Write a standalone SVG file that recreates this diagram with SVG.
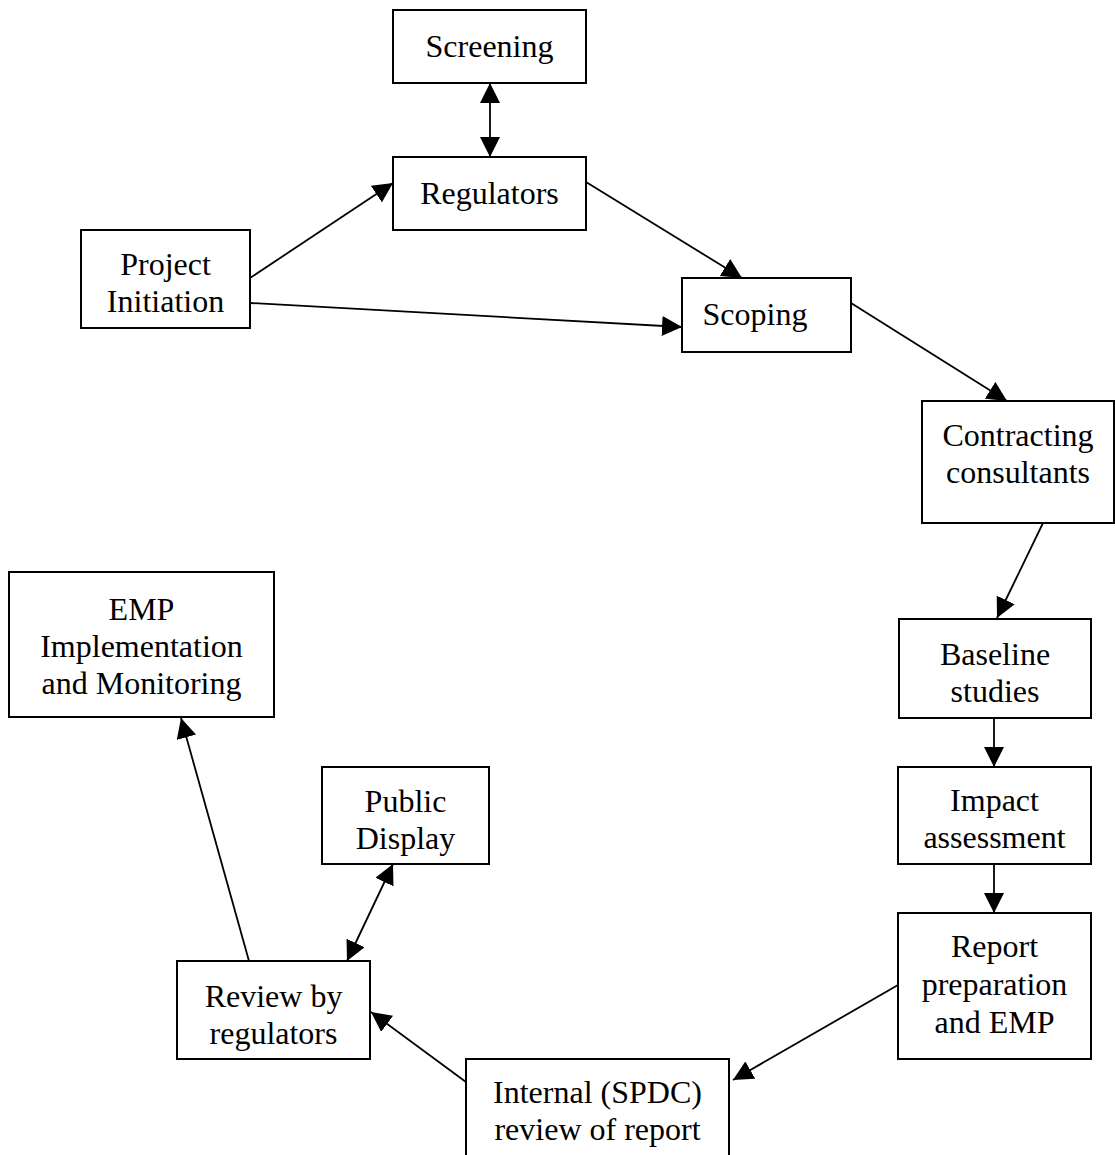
<svg xmlns="http://www.w3.org/2000/svg" width="1115" height="1155" viewBox="0 0 1115 1155">
<style>
.n rect{fill:#fff;stroke:#000;stroke-width:2}
text{font-family:"Liberation Serif","Times New Roman",serif;font-size:32px;fill:#000;text-anchor:middle}
.c line{stroke:#000;stroke-width:1.8;marker-end:url(#ah)}
.c line.bi{marker-start:url(#ah)}
</style>
<defs>
<marker id="ah" markerUnits="userSpaceOnUse" markerWidth="20" markerHeight="20" refX="20" refY="10" orient="auto-start-reverse" viewBox="0 0 20 20">
<path d="M0,0 L20,10 L0,20 z" fill="#000"/>
</marker>
</defs>
<rect width="1115" height="1155" fill="#fff"/>
<g class="c" id="connectors">
<line class="bi" x1="490" y1="83" x2="490" y2="157"/>
<line x1="250" y1="278" x2="393" y2="183"/>
<line x1="250" y1="303" x2="682" y2="327"/>
<line x1="586" y1="182" x2="742" y2="278"/>
<line x1="851" y1="303" x2="1007" y2="401"/>
<line x1="1043" y1="523" x2="997" y2="618"/>
<line x1="994" y1="718" x2="994" y2="767"/>
<line x1="994" y1="864" x2="994" y2="913"/>
<line x1="898" y1="985" x2="733" y2="1080"/>
<line x1="466" y1="1082" x2="371" y2="1012"/>
<line class="bi" x1="347" y1="961" x2="393" y2="864"/>
<line x1="249" y1="961" x2="181" y2="718"/>
</g>
<g class="n" id="screening"><rect x="393" y="10" width="193" height="73"/><text x="489.5" y="57">Screening</text></g>
<g class="n" id="regulators"><rect x="393" y="157" width="193" height="73"/><text x="489.5" y="204">Regulators</text></g>
<g class="n" id="project"><rect x="81" y="230" width="169" height="98"/><text x="165.5" y="275">Project</text><text x="165.5" y="312">Initiation</text></g>
<g class="n" id="scoping"><rect x="682" y="278" width="169" height="74"/><text x="755" y="325">Scoping</text></g>
<g class="n" id="contracting"><rect x="922" y="401" width="192" height="122"/><text x="1018" y="446">Contracting</text><text x="1018" y="483">consultants</text></g>
<g class="n" id="baseline"><rect x="899" y="619" width="192" height="99"/><text x="995" y="665">Baseline</text><text x="995" y="702">studies</text></g>
<g class="n" id="impact"><rect x="898" y="767" width="193" height="97"/><text x="994.5" y="811">Impact</text><text x="994.5" y="848">assessment</text></g>
<g class="n" id="report"><rect x="898" y="913" width="193" height="146"/><text x="994.5" y="957">Report</text><text x="994.5" y="995">preparation</text><text x="994.5" y="1033">and EMP</text></g>
<g class="n" id="internal"><rect x="466" y="1059" width="263" height="110"/><text x="597.5" y="1103">Internal (SPDC)</text><text x="597.5" y="1140">review of report</text></g>
<g class="n" id="review"><rect x="177" y="961" width="193" height="98"/><text x="273.5" y="1007">Review by</text><text x="273.5" y="1044">regulators</text></g>
<g class="n" id="public"><rect x="322" y="767" width="167" height="97"/><text x="405.5" y="812">Public</text><text x="405.5" y="849">Display</text></g>
<g class="n" id="emp"><rect x="9" y="572" width="265" height="145"/><text x="141.5" y="620">EMP</text><text x="141.5" y="657">Implementation</text><text x="141.5" y="694">and Monitoring</text></g>
</svg>
